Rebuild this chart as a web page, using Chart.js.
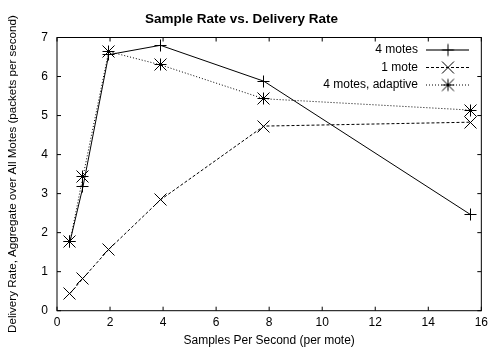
<!DOCTYPE html>
<html>
<head>
<meta charset="utf-8">
<script src="https://cdn.jsdelivr.net/npm/chart.js@4.4.0/dist/chart.umd.min.js"></script>
<style>
  html, body { margin: 0; padding: 0; background: #fff; }
  #wrap { width: 493px; height: 350px; }
</style>
</head>
<body>
<div id="wrap"><canvas id="chart" width="493" height="350"></canvas></div>
<script>
// samples per second (per mote)
const sampleRates = [0.49, 0.98, 1.95, 3.9, 7.8, 15.6];
// delivery rate, packets per second
const fourMotes = [1.77, 3.18, 6.56, 6.80, 5.88, 2.46];
const oneMote = [0.44, 0.83, 1.57, 2.84, 4.73, 4.83];
const fourMotesAdaptive = [1.77, 3.44, 6.64, 6.30, 5.43, 5.14];

const seriesNames = ['4 motes', '1 mote', '4 motes, adaptive'];
const xTicks = [0, 2, 4, 6, 8, 10, 12, 14, 16];
const yTicks = [0, 1, 2, 3, 4, 5, 6, 7];

const FONT = '"Liberation Sans", Arial, Helvetica, sans-serif';

// gnuplot-like point markers
function marker(kind) {
  const s = 6, c = document.createElement('canvas');
  c.width = c.height = 2 * s + 3;
  const g = c.getContext('2d'), m = s + 1.5;
  g.strokeStyle = '#000';
  g.lineWidth = 1;
  g.beginPath();
  if (kind === 'plus' || kind === 'star') {
    g.moveTo(m - s, m); g.lineTo(m + s, m);
    g.moveTo(m, m - s); g.lineTo(m, m + s);
  }
  if (kind === 'x' || kind === 'star') {
    g.moveTo(m - s, m - s); g.lineTo(m + s, m + s);
    g.moveTo(m - s, m + s); g.lineTo(m + s, m - s);
  }
  g.stroke();
  return c;
}

function pts(ys) {
  return sampleRates.map((x, i) => ({ x: x, y: ys[i] }));
}

const styles = [
  { dash: [], pt: marker('plus') },
  { dash: [3, 2], pt: marker('x') },
  { dash: [1, 2], pt: marker('star') }
];

// keep marker images crisp at fractional positions
const crisp = {
  id: 'crisp',
  beforeDatasetsDraw(chart) { chart.ctx.save(); chart.ctx.imageSmoothingEnabled = false; },
  afterDatasetsDraw(chart) { chart.ctx.restore(); }
};

const frameTicks = {
  id: 'frameTicks',
  afterDraw(chart) {
    const { ctx, chartArea: a, scales } = chart;
    ctx.save();
    ctx.strokeStyle = '#000';
    ctx.lineWidth = 1;
    ctx.strokeRect(a.left, a.top, a.right - a.left, a.bottom - a.top);
    ctx.beginPath();
    xTicks.forEach(v => {
      const x = scales.x.getPixelForValue(v);
      ctx.moveTo(x, a.bottom); ctx.lineTo(x, a.bottom - 4);
      ctx.moveTo(x, a.top); ctx.lineTo(x, a.top + 4);
    });
    yTicks.forEach(v => {
      const y = scales.y.getPixelForValue(v);
      ctx.moveTo(a.left, y); ctx.lineTo(a.left + 4, y);
      ctx.moveTo(a.right, y); ctx.lineTo(a.right - 4, y);
    });
    ctx.stroke();
    ctx.restore();
  }
};

const keyBox = {
  id: 'keyBox',
  afterDraw(chart) {
    const ctx = chart.ctx;
    ctx.save();
    ctx.font = '12px ' + FONT;
    ctx.fillStyle = '#000';
    ctx.textAlign = 'right';
    ctx.textBaseline = 'middle';
    chart.data.datasets.forEach((ds, i) => {
      const y = 50 + i * 17.5;
      ctx.fillText(ds.label, 418, y);
      ctx.beginPath();
      ctx.setLineDash(ds.borderDash);
      ctx.lineWidth = i === 0 ? 1.5 : 1;
      ctx.strokeStyle = i === 0 ? '#444' : '#000';
      ctx.moveTo(426, y); ctx.lineTo(469, y);
      ctx.stroke();
      ctx.setLineDash([]);
      ctx.drawImage(ds.pointStyle, 448 - ds.pointStyle.width / 2, y - ds.pointStyle.height / 2);
    });
    ctx.restore();
  }
};

new Chart(document.getElementById('chart'), {
  type: 'scatter',
  data: {
    datasets: [fourMotes, oneMote, fourMotesAdaptive].map((ys, i) => ({
      label: seriesNames[i],
      data: pts(ys),
      showLine: true,
      borderColor: '#000',
      borderWidth: 1,
      borderDash: styles[i].dash,
      pointStyle: styles[i].pt,
      pointRadius: 6,
      pointHoverRadius: 6,
      tension: 0
    }))
  },
  options: {
    responsive: false,
    animation: false,
    events: [],
    layout: { padding: { left: 0, right: 10, top: 0, bottom: 0 } },
    plugins: {
      legend: { display: false },
      tooltip: { enabled: false },
      title: {
        display: true,
        text: 'Sample Rate vs. Delivery Rate',
        color: '#000',
        font: { family: FONT, size: 13.5, weight: 'bold', lineHeight: 1.2 },
        padding: { top: 11, bottom: 10.3 }
      }
    },
    scales: {
      x: {
        type: 'linear',
        min: 0, max: 16,
        afterBuildTicks: s => { s.ticks = xTicks.map(v => ({ value: v })); },
        afterFit: s => { s.height = 39.3; },
        grid: { display: false, drawTicks: false },
        border: { display: false },
        ticks: { color: '#000', padding: 5, font: { family: FONT, size: 12 } },
        title: {
          display: true,
          text: 'Samples Per Second (per mote)',
          color: '#000',
          font: { family: FONT, size: 12 },
          padding: { top: 0, bottom: 2 }
        }
      },
      y: {
        type: 'linear',
        min: 0, max: 7,
        afterBuildTicks: s => { s.ticks = yTicks.map(v => ({ value: v })); },
        afterFit: s => { s.width = 57; },
        grid: { display: false, drawTicks: false },
        border: { display: false },
        ticks: { color: '#000', padding: 9, font: { family: FONT, size: 12 } },
        title: {
          display: true,
          text: 'Delivery Rate, Aggregate over All Motes (packets per second)',
          color: '#000',
          font: { family: FONT, size: 11.6 },
          padding: { top: 6, bottom: 0 }
        }
      }
    }
  },
  plugins: [crisp, frameTicks, keyBox]
});
</script>
</body>
</html>
